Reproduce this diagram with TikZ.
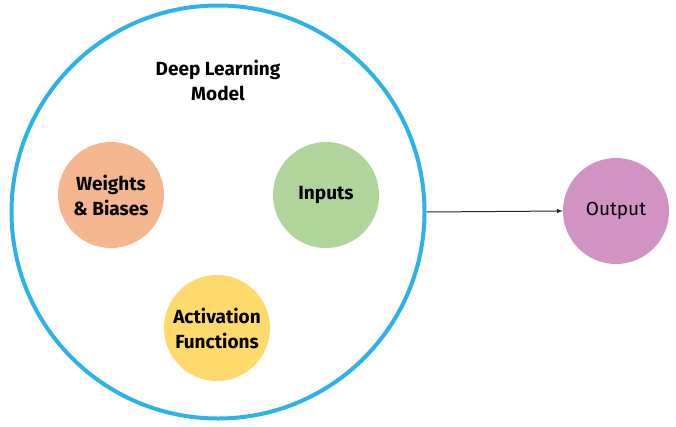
\documentclass[tikz,border=0pt]{standalone}
\usepackage{fontspec}
\setmainfont{Fira Sans}
\usepackage{tikz}
\usetikzlibrary{arrows}
\definecolor{modelblue}{HTML}{2BB3E9}
\definecolor{wbcolor}{HTML}{F4B68F}
\definecolor{incolor}{HTML}{B0D59B}
\definecolor{accolor}{HTML}{FEDA6D}
\definecolor{outcolor}{HTML}{D093C4}
\tikzset{
  label font/.style = {font=\fontsize{19}{25}\selectfont\bfseries},
  every part/.style = {circle, minimum size=106pt, inner sep=0pt, align=center, label font},
  part/.style = {every part, fill=#1}, part/.default={white},
  model/.style = {circle, minimum size=413pt, inner sep=0pt, line width=4pt, draw=modelblue}
}

\begin{document}
\begin{tikzpicture}[x=1pt,y=-1pt]
\useasboundingbox (0,0) rectangle (676,426);

% -- the model and its title
  \draw (218,80) node[align=center, label font] (T) {Deep Learning\\Model};
  \draw (218,212) node[model] (M) {};

% -- parts inside the model
  \draw (111,195) node[part=wbcolor] (W) {Weights\\\& Biases};
  \draw (326,195) node[part=incolor] (I) {Inputs};
  \draw (217,328) node[part=accolor] (A) {Activation\\Functions};

% -- output
  \draw (616,211) node[part=outcolor, font=\fontsize{19}{25}\selectfont] (O) {Output};
  \draw[-latex, line width=1pt, black!85]  (M.east) -- (O.west);

\end{tikzpicture}
\end{document}
